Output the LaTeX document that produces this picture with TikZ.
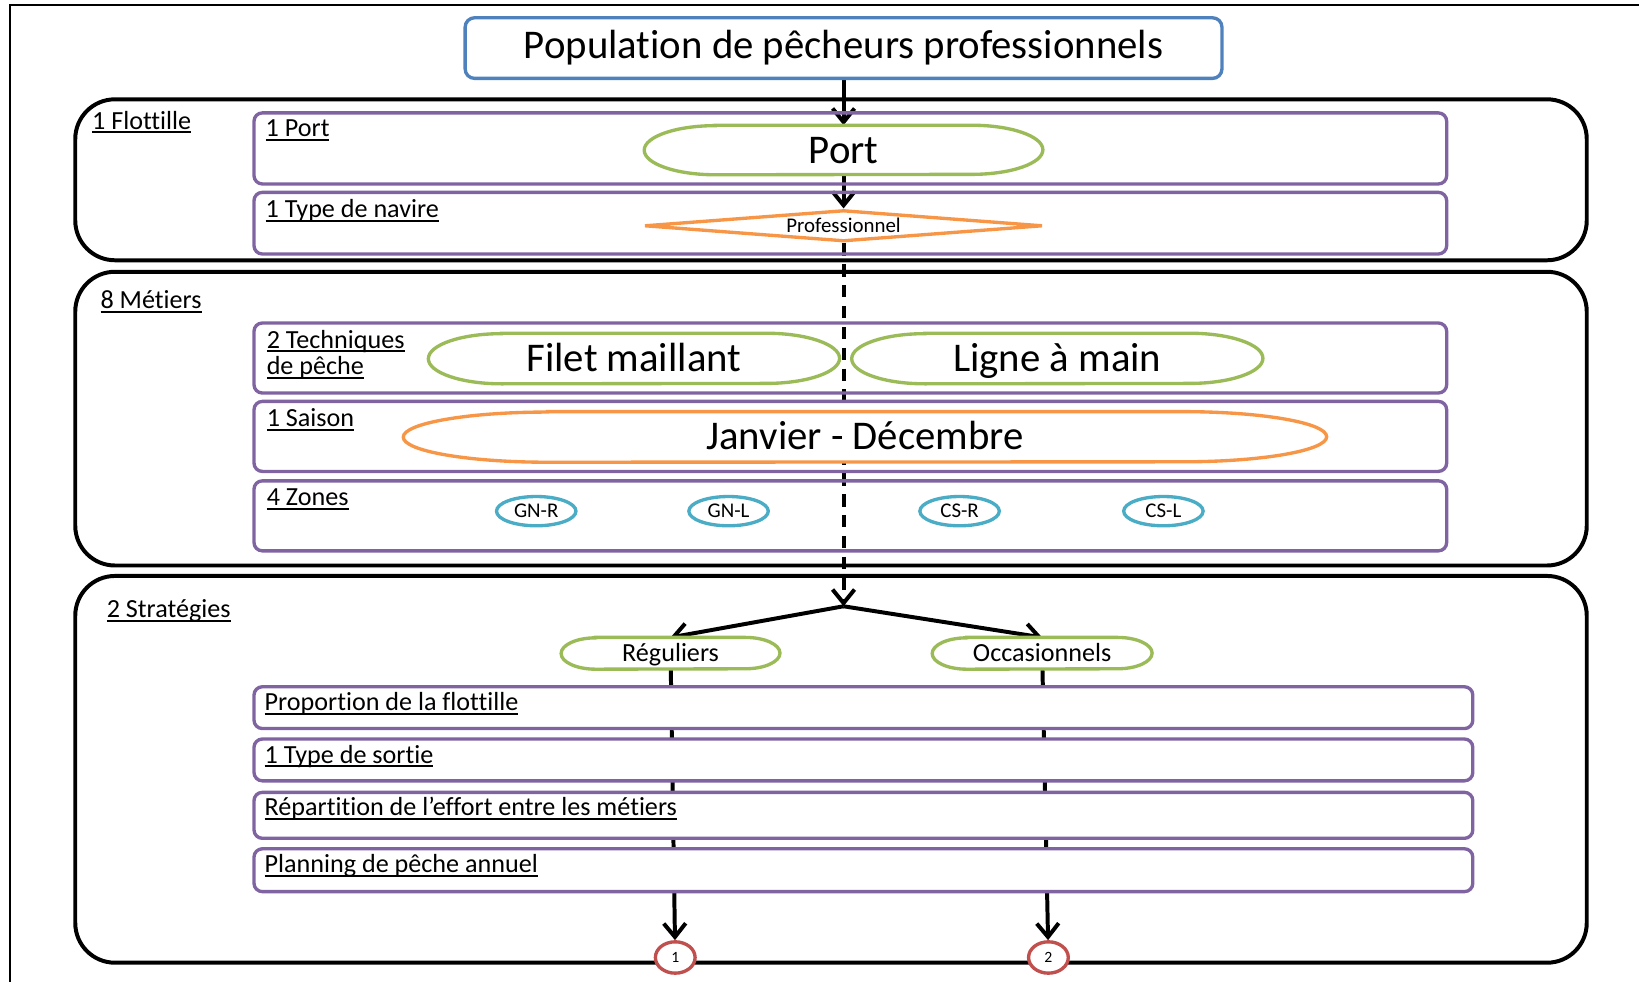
\documentclass[tikz,border=0pt]{standalone}
\usepackage{fontspec}
\setmainfont{Carlito}[Ligatures=NoCommon]
\usepackage{xcolor}
\usetikzlibrary{arrows.meta,positioning,shapes.geometric}

\definecolor{popblue}{HTML}{4F81BD}
\definecolor{rowpurple}{HTML}{8064A2}
\definecolor{pillgreen}{HTML}{9BBB59}
\definecolor{pillorange}{HTML}{F79646}
\definecolor{zonecyan}{HTML}{4BACC6}
\definecolor{endred}{HTML}{C0504D}

\pgfdeclarelayer{back}
\pgfsetlayers{back,main}

\newcommand{\undertext}[1]{\setbox0=\hbox{#1}\rlap{\rule[-4pt]{\wd0}{1.8pt}}\box0}
\newcommand{\pill}[4]{\draw[#2, line width=3.2pt, fill=white]
  ([xshift=#3]#1.north west) -- ([xshift=-#3]#1.north east)
  arc[start angle=90, end angle=-90, x radius=#3, y radius=#4]
  -- ([xshift=#3]#1.south west)
  arc[start angle=270, end angle=90, x radius=#3, y radius=#4] -- cycle;}

\begin{document}
\begin{tikzpicture}[
    x=1pt, y=-1pt,
    popbox/.style={rectangle, draw=popblue, line width=3.2pt, rounded corners=9pt, minimum width=724pt, minimum height=58pt, inner sep=0pt, font=\fontsize{39}{44}\selectfont},
    group/.style={rectangle, draw, line width=3.8pt, rounded corners=38pt, minimum width=1446pt, inner sep=0pt},
    rowbox/.style={rectangle, draw=rowpurple, line width=3.2pt, rounded corners=8pt, minimum width=1141pt, inner sep=0pt, outer sep=0pt},
    stratrow/.style={rowbox, fill=white, minimum width=1166pt},
    grouplabel/.style={anchor=base west, inner sep=0pt, font=\fontsize{25}{25}\selectfont},
    pilltext/.style={inner sep=0pt, minimum height=48pt, text height=31pt, text depth=6pt, font=\fontsize{39}{44}\selectfont},
    smallpill/.style={inner sep=0pt, minimum height=30pt, text height=19pt, text depth=3pt, font=\fontsize{25}{30}\selectfont},
    navire/.style={diamond, draw=pillorange, line width=3.2pt, fill=white, aspect=12, minimum width=381pt, minimum height=30pt, inner sep=0pt, font=\fontsize{20}{22}\selectfont},
    zone/.style={ellipse, draw=zonecyan, line width=3.2pt, fill=white, minimum width=76pt, minimum height=28pt, inner sep=0pt, font=\fontsize{20}{22}\selectfont},
    endcircle/.style={ellipse, draw=endred, line width=3.2pt, fill=white, minimum width=38pt, minimum height=30pt, inner sep=0pt, font=\fontsize{15}{18}\selectfont},
    arrow/.style={-{Straight Barb[length=13pt,width=21pt,line width=3.8pt]}, line width=3.8pt}
]
\useasboundingbox (0,0) rectangle (1568,939);
\draw[line width=2pt] (10,939) -- (10,5) -- (1568,5);

\node[popbox] (pop) at (807,46) {Population de pêcheurs professionnels};

\node[group, minimum height=154pt] (flot) at (795,172) {};
\node[grouplabel] (flotlbl) at (88,123.5) {\undertext{1 Flottille}};
\node[rowbox, minimum height=68pt] (portrow) at (813.5,142) {};
\node[grouplabel] (portlbl) at (254,131) {\undertext{1 Port}};
\node[rowbox, minimum height=59pt, below=8pt of portrow] (navrow) {};
\node[grouplabel] (navlbl) at (254,208) {\undertext{1 Type de navire}};
\node[pilltext, minimum width=381pt, minimum height=47pt] (port) at (807,143.5) {Port};
\node[navire] (prof) at (807,216) {Professionnel};

\node[group, minimum height=281pt] (met) at (795,400.5) {};
\node[grouplabel] (metlbl) at (96,295.5) {\undertext{8 Métiers}};
\node[rowbox, minimum height=67pt] (techrow) at (813.5,342.5) {};
\node[grouplabel, anchor=north west, align=left] (techlbl) at (255,315.5) {\undertext{2 Techniques}\\[0.5pt]\undertext{de pêche}};
\node[rowbox, minimum height=67pt, below=8pt of techrow] (saisrow) {};
\node[grouplabel] (saislbl) at (255,408) {\undertext{1 Saison}};
\node[rowbox, minimum height=67pt, below=9pt of saisrow] (zonerow) {};
\node[grouplabel] (zonelbl) at (255,484) {\undertext{4 Zones}};
\node[pilltext, minimum width=393pt] (filet) at (606.5,343) {Filet maillant};
\node[pilltext, minimum width=393pt] (ligne) at (1011.5,343) {Ligne à main};
\node[pilltext, minimum width=883pt] (saison) at (827.5,418) {Janvier - Décembre};
\node[zone] (gnr) at (513,489) {GN-R};
\node[zone] (gnl) at (697,489) {GN-L};
\node[zone] (csr) at (918,489) {CS-R};
\node[zone] (csl) at (1113,489) {CS-L};

\node[group, minimum height=370pt] (strat) at (795,736) {};
\node[grouplabel] (stratlbl) at (102,591) {\undertext{2 Stratégies}};
\coordinate (split) at (807,580);
\node[smallpill, minimum width=209pt] (reg) at (641.5,625) {Réguliers};
\node[smallpill, minimum width=210pt] (occ) at (997,625) {Occasionnels};
\node[stratrow, minimum height=40pt] (proprow) at (826,677) {};
\node[grouplabel] (proplbl) at (253,680) {\undertext{Proportion de la flottille}};
\node[stratrow, minimum height=40pt, below=10pt of proprow] (sortrow) {};
\node[grouplabel] (sortlbl) at (253,730) {\undertext{1 Type de sortie}};
\node[stratrow, minimum height=44pt, below=11pt of sortrow] (reprow) {};
\node[grouplabel] (replbl) at (253,780) {\undertext{Répartition de l’effort entre les métiers}};
\node[stratrow, minimum height=41pt, below=10pt of reprow] (planrow) {};
\node[grouplabel] (planlbl) at (253,835) {\undertext{Planning de pêche annuel}};
\node[endcircle] (c1) at (646,916) {1};
\node[endcircle] (c2) at (1003,916) {2};

\begin{pgfonlayer}{back}
\draw[arrow] (pop) -- (port);
\draw[arrow] (port) -- (prof);
\draw[arrow, dash pattern=on 12pt off 8pt] (prof) -- (split);
\draw[arrow] (split) -- (reg.north);
\draw[arrow] (split) -- (occ.north);
\draw[arrow] (reg) -- (c1);
\draw[arrow] (occ) -- (c2);
\pill{port}{pillgreen}{68pt}{23.5pt}
\pill{filet}{pillgreen}{70pt}{24pt}
\pill{ligne}{pillgreen}{70pt}{24pt}
\pill{saison}{pillorange}{138pt}{24pt}
\pill{reg}{pillgreen}{33pt}{15pt}
\pill{occ}{pillgreen}{33pt}{15pt}
\end{pgfonlayer}
\end{tikzpicture}
\end{document}
